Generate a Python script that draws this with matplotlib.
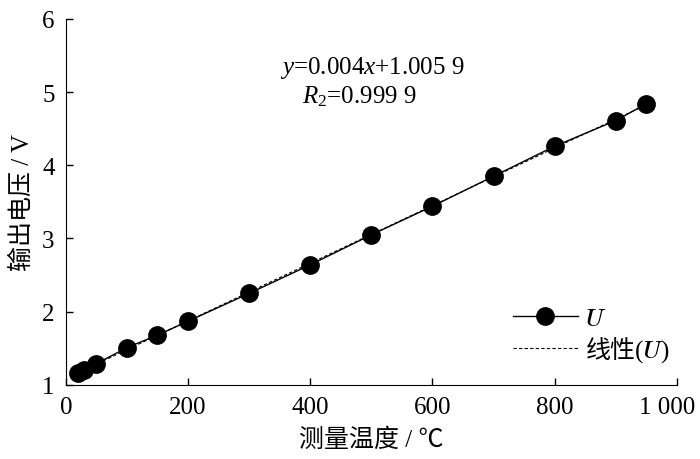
import numpy as np
import matplotlib
matplotlib.use('Agg')
from matplotlib import pyplot as plt
from matplotlib.ticker import FuncFormatter
from matplotlib.transforms import ScaledTranslation

plt.rcParams['font.family'] = ['Liberation Serif', 'Noto Sans CJK SC', 'STIXGeneral']
plt.rcParams['font.size'] = 18
plt.rcParams['mathtext.fontset'] = 'custom'
plt.rcParams['mathtext.rm'] = 'Liberation Serif'
plt.rcParams['mathtext.it'] = 'Liberation Serif:italic'

# measured temperature (deg C) and output voltage (V)
temperature = [20, 30, 50, 100, 150, 200, 300, 400, 500, 600, 700, 800, 900, 950]
voltage = [1.16, 1.21, 1.29, 1.51, 1.68, 1.87, 2.25, 2.64, 3.05, 3.44, 3.85, 4.26, 4.61, 4.84]
x_ticks = [0, 200, 400, 600, 800, 1000]
y_ticks = [1, 2, 3, 4, 5, 6]

fig = plt.figure(figsize=(7, 4.6), dpi=100)
ax = fig.add_axes([0.094, 0.161, 0.873, 0.796])

# linear trend line (drawn under the data line)
k, b = np.polyfit(temperature, voltage, 1)
tx = np.array([temperature[0], temperature[-1]])
ax.plot(tx, k * tx + b, color='black', lw=0.8, ls=(0, (3, 2)), zorder=1,
        label='线性(\U0001D448)')
ax.plot(temperature, voltage, color='black', lw=1.0, marker='o', ms=12.5, zorder=2,
        label='\U0001D448')

ax.set_xlim(0, 1000)
ax.set_ylim(1, 6)
ax.set_xticks(x_ticks)
ax.set_yticks(y_ticks)
ax.xaxis.set_major_formatter(FuncFormatter(lambda v, p: '{:,.0f}'.format(v).replace(',', ' ')))
ax.tick_params(direction='in', length=5, width=1, pad=8)

# keep "1 000" inside the figure
last = ax.get_xticklabels()[-1]
last.set_transform(last.get_transform() + ScaledTranslation(-7 / 72, 0, fig.dpi_scale_trans))

ax.spines['top'].set_visible(False)
ax.spines['right'].set_visible(False)

ax.set_xlabel('测量温度 / ℃', labelpad=7)
ax.set_ylabel('输出电压 / V', labelpad=6)

ax.text(502, 5.34, '$y$=0.004$x$+1.005 9', ha='center', va='center')
ax.text(481, 4.95, '$R_2$=0.999 9', ha='center', va='center')

handles, labels = ax.get_legend_handles_labels()
ax.legend(handles[::-1], labels[::-1], loc='lower right', bbox_to_anchor=(1.013, 0.02),
          frameon=False, handlelength=2.6, handletextpad=0.3, labelspacing=0.25,
          borderaxespad=0.2)

fig.savefig('out.png', dpi=100)
